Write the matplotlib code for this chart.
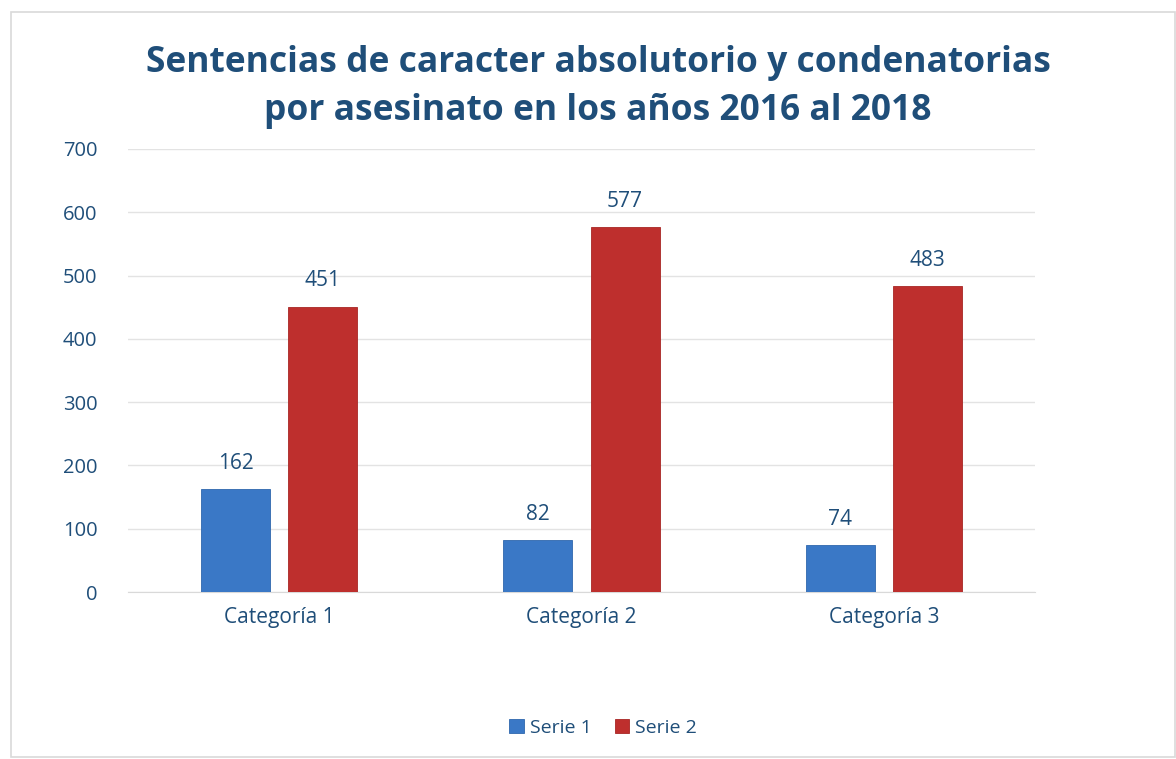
import matplotlib
matplotlib.use("Agg")
import matplotlib.pyplot as plt
import numpy as np
from matplotlib.patches import Rectangle

categories = ["Categoría 1", "Categoría 2", "Categoría 3"]
serie1 = [162, 82, 74]
serie2 = [451, 577, 483]
series_names = ["Serie 1", "Serie 2"]
yticks = [0, 100, 200, 300, 400, 500, 600, 700]
title = "Sentencias de caracter absolutorio y condenatorias\npor asesinato en los años 2016 al 2018"

text_color = "#1f4e79"
blue = "#3a78c6"
red = "#be2f2d"

plt.rcParams['font.family'] = ['Open Sans', 'DejaVu Sans']

fig = plt.figure(figsize=(11.76, 7.59), dpi=100)
fig.patch.set_facecolor("white")
fig.patches.append(Rectangle((11/1176, 1 - 757/759), 1 - 11/1176 - 0.0005, (757 - 12)/759,
                             transform=fig.transFigure, fill=False, edgecolor="#d9d9d9", lw=1.2))

ax = fig.add_axes([128/1176, 1 - 592/759, (1035 - 128)/1176, (592 - 149)/759])
x = np.arange(len(categories))
w = 0.228
off = 0.144
b1 = ax.bar(x - off, serie1, w, color=blue, edgecolor="#2f67ad", lw=0.6, label=series_names[0], zorder=3)
b2 = ax.bar(x + off, serie2, w, color=red, edgecolor="#a82624", lw=0.6, label=series_names[1], zorder=3)

for bars in (b1, b2):
    for r in bars:
        ax.annotate(f"{int(r.get_height())}", (r.get_x() + r.get_width() / 2, r.get_height()),
                    xytext=(0, 11), textcoords="offset points", ha="center", va="bottom",
                    fontsize=15, color=text_color)

ax.set_xlim(-0.5, 2.5)
ax.set_ylim(0, 700)
ax.set_yticks(yticks)
ax.set_xticks(x)
ax.set_xticklabels(categories)
ax.tick_params(axis="y", length=0, labelsize=14.5, labelcolor=text_color, pad=22)
ax.tick_params(axis="x", length=0, labelsize=15, labelcolor=text_color, pad=11)
ax.grid(axis="y", color="#e3e3e3", lw=1, zorder=0)
for s in ["top", "right", "left"]:
    ax.spines[s].set_visible(False)
ax.spines["bottom"].set_color("#d9d9d9")

fig.text(598/1176, 1 - 87/759, title, ha="center", va="center", fontsize=25.5,
         fontweight="bold", color=text_color, linespacing=1.45)

fig.legend(handles=[b1, b2], labels=series_names, loc="center", bbox_to_anchor=(603/1176, 1 - 728/759),
           ncol=2, frameon=False, fontsize=14, handlelength=0.75, handleheight=0.75,
           handletextpad=0.3, columnspacing=1.2, labelcolor=text_color)

fig.savefig("out.png", dpi=100, facecolor="white")
